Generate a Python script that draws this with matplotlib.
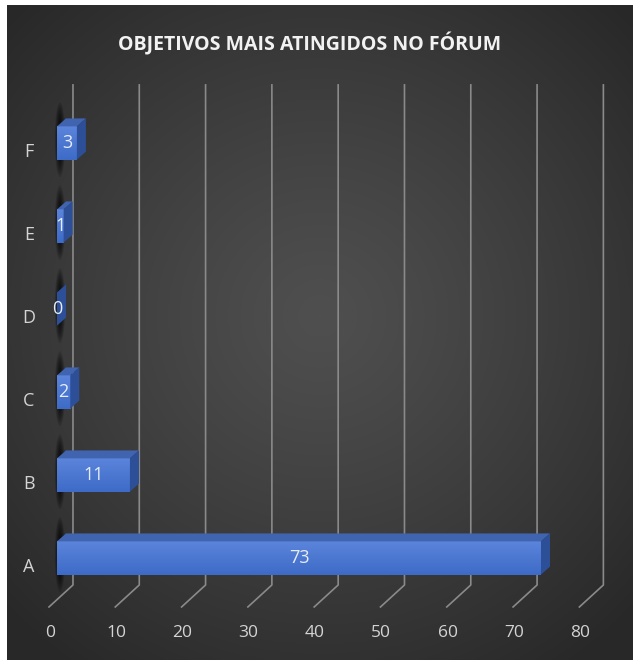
import matplotlib.pyplot as plt
import numpy as np
from matplotlib.patches import Polygon, Ellipse

categories = ["A", "B", "C", "D", "E", "F"]
values = [73, 11, 2, 0, 1, 3]
ticks = [0, 10, 20, 30, 40, 50, 60, 70, 80]
title = "OBJETIVOS MAIS ATINGIDOS NO FÓRUM"

FONT = ["Open Sans", "DejaVu Sans"]
TEXT_COLOR = "#d4d4d4"
GRID_COLOR = "#8a8a8a"

# 3d look (data units)
BAR_H = 0.4
DX, DY = 1.36, 0.096  # depth of the bars
WALL_DX, WALL_DY = 2.41, 0.325  # back wall behind bar front
FLOOR_DX, FLOOR_DY = -1.21, -0.59  # front floor edge


def main():
    fig = plt.figure(figsize=(6.33, 6.60), dpi=100)
    fig.patch.set_facecolor("white")

    # radial background
    bg = fig.add_axes((7 / 633, 0, 626 / 633, 655 / 660))
    yy, xx = np.mgrid[-1:1:400j, -1:1:400j]
    r = np.sqrt((xx * 0.95) ** 2 + ((yy + 0.05) * 1.0) ** 2)
    shade = 0.31 - 0.15 * np.clip(r / 1.3, 0, 1) ** 1.2
    bg.imshow(np.dstack([shade] * 3), extent=(0, 1, 0, 1), aspect="auto")
    bg.set_axis_off()

    ax = fig.add_axes((0, 0, 1, 1))
    ax.patch.set_alpha(0)
    ax.set_axis_off()

    # gridlines with floor diagonal
    for t in ticks:
        ax.plot(
            [t + FLOOR_DX, t + WALL_DX, t + WALL_DX],
            [FLOOR_DY, -WALL_DY, 5.70],
            color=GRID_COLOR,
            lw=1.2,
            zorder=1,
        )
        ax.text(
            t - 1.1, -0.904, str(t), ha="center", va="center",
            color=TEXT_COLOR, fontsize=12.5, family=FONT,
        )

    # bars
    for i, (cat, v) in enumerate(zip(categories, values)):
        # soft shadow streak behind each bar
        for k in range(8):
            ax.add_patch(
                Ellipse((0.45, i + 0.04), 1.6 - 0.17 * k, 0.9 - 0.06 * k,
                        color="black", alpha=0.12, lw=0, zorder=2)
            )
        y0, y1 = i - BAR_H / 2, i + BAR_H / 2
        if v > 0:
            grad = np.linspace(0, 1, 50)[:, None]
            top_c = np.array([0.36, 0.52, 0.86])
            bot_c = np.array([0.24, 0.42, 0.78])
            img = top_c * (1 - grad[..., None]) + bot_c * grad[..., None]
            ax.imshow(img, extent=(0, v, y0, y1), aspect="auto", zorder=4,
                      origin="upper")
        ax.add_patch(
            Polygon([(0, y1), (v, y1), (v + DX, y1 + DY), (DX, y1 + DY)],
                    closed=True, color="#4164b0", lw=0, zorder=4)
        )
        ax.add_patch(
            Polygon([(v, y0), (v + DX, y0 + DY), (v + DX, y1 + DY), (v, y1)],
                    closed=True, color="#2d4f98", lw=0, zorder=4)
        )
        ax.text(
            v / 2, i, str(v), ha="center", va="center",
            color="#e6ecf8", fontsize=13, family=FONT, zorder=5,
        )
        ax.text(
            -4.22, i - 0.11, cat, ha="center", va="center",
            color=TEXT_COLOR, fontsize=13, family=FONT,
        )

    ax.set_xlim(-57 / 6.63, (633 - 57) / 6.63)
    ax.set_ylim(-102 / 83, (660 - 102) / 83)

    fig.text(
        310 / 633, 1 - 44 / 660, title, ha="center", va="center",
        color="#f2f2f2", fontsize=14, fontweight="bold", family=FONT,
    )

    fig.savefig("out.png", dpi=100)


if __name__ == "__main__":
    main()
